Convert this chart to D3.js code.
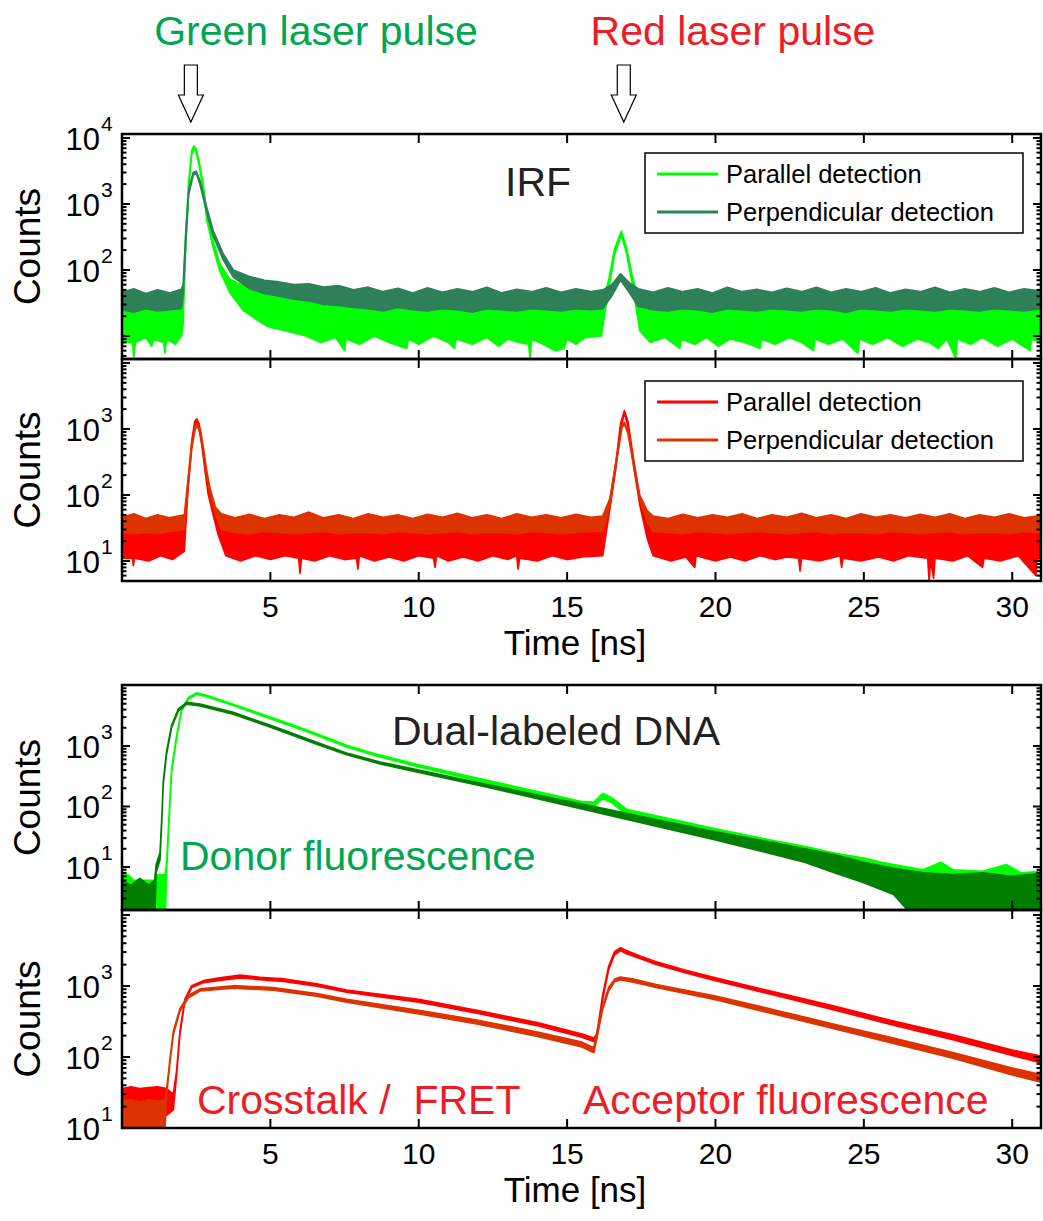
<!DOCTYPE html>
<html>
<head>
<meta charset="utf-8">
<title>IRF and dual-labeled DNA decays</title>
<script src="https://d3js.org/d3.v7.min.js"></script>
<style>
  body { margin: 0; background: #fff; }
  svg text { font-family: "Liberation Sans", Arial, Helvetica, sans-serif; }
</style>
</head>
<body>
<div id="chart"></div>
<script>
// ---- data: [time ns, low count, high count] (noise band) ----
var irfGreenPar = [
  [0, 8, 24], [0.35, 8, 26], [0.4, 4.8, 24], [0.45, 8, 25], [0.8, 9.5, 26], [1.0, 7, 24], [1.05, 9, 26],
  [1.4, 8, 25], [1.45, 5.5, 26], [1.5, 9, 25], [1.8, 7.5, 27], [2.0, 10, 26],
  [2.06, 15, 40], [2.15, 250, 400], [2.25, 1800, 2300], [2.35, 5500, 6500], [2.42, 7000, 7600],
  [2.5, 6000, 6800], [2.6, 3800, 4400], [2.74, 1600, 2000], [2.86, 560, 700], [3.07, 220, 280],
  [3.3, 95, 125], [3.64, 45, 72], [4.1, 24, 58], [4.6, 17, 50], [4.9, 14, 46], [5.5, 12, 42],
  [6.2, 10, 38], [6.7, 8, 34], [7.2, 9.5, 30], [7.5, 6, 29], [7.55, 9, 28], [8.0, 7.5, 27],
  [8.5, 10, 28], [9, 8, 27], [9.6, 6.5, 26], [9.65, 9, 27], [10.0, 7.5, 28], [10.5, 10, 27],
  [11.0, 8, 26], [11.2, 6.5, 27], [11.25, 9, 28], [11.8, 7.5, 27], [12.3, 9.5, 28], [12.7, 7, 26],
  [13.0, 9, 27], [13.4, 8, 28], [13.7, 7.5, 27], [13.75, 4.6, 27], [13.8, 9, 28], [14.2, 7.5, 26],
  [14.6, 6, 27], [14.9, 6.5, 28], [15.0, 9, 27], [15.3, 7.5, 26], [15.6, 9.5, 27], [16.15, 10, 28],
  [16.4, 50, 70], [16.6, 170, 210], [16.83, 340, 390], [17.0, 180, 220], [17.2, 60, 80],
  [17.45, 12, 32], [17.8, 8, 28], [18.3, 9.5, 27], [18.8, 6.5, 26], [18.85, 9, 28], [19.3, 7.5, 27],
  [19.7, 9.5, 28], [20.1, 7, 27], [20.5, 9, 26], [21.0, 8, 28], [21.5, 6.5, 27], [21.55, 9, 28],
  [22.0, 7.5, 26], [22.5, 9.5, 27], [22.9, 8, 28], [23.3, 6, 27], [23.35, 9, 26], [23.8, 7.5, 28],
  [24.3, 9, 27], [24.8, 5.5, 26], [24.85, 9, 28], [25.3, 7.5, 27], [25.8, 9.5, 28], [26.3, 7, 26],
  [26.8, 9, 27], [27.2, 8, 28], [27.5, 6.5, 27], [27.8, 9, 26], [28.1, 4.6, 27], [28.15, 9, 28],
  [28.6, 7.5, 27], [29, 9.5, 28], [29.5, 7, 26], [30, 9, 27], [30.6, 6, 28], [30.65, 9, 27], [31, 8, 28]
];
var irfGreenPerp = [
  [0, 25, 46], [0.4, 23, 52], [0.8, 26, 44], [1.2, 24, 50], [1.6, 25, 45], [2.0, 26, 51],
  [2.06, 40, 60], [2.15, 250, 380], [2.25, 1400, 1700], [2.4, 2700, 3000], [2.5, 2950, 3150],
  [2.63, 1950, 2250], [2.86, 720, 880], [3.07, 330, 400], [3.4, 145, 180], [3.75, 78, 100],
  [4.3, 52, 80], [4.8, 44, 70], [5.3, 40, 66], [5.8, 36, 60], [6.3, 34, 62], [6.8, 30, 55],
  [7.3, 29, 58], [7.8, 27, 50], [8.3, 26, 55], [8.8, 24, 47], [9.3, 27, 53], [9.8, 25, 45],
  [10.3, 24, 54], [10.8, 26, 46], [11.3, 25, 52], [11.8, 23, 47], [12.3, 26, 55], [12.8, 25, 45],
  [13.3, 24, 51], [13.8, 26, 47], [14.3, 25, 54], [14.8, 24, 46], [15.3, 26, 52], [15.8, 25, 47],
  [16.2, 26, 50], [16.5, 40, 60], [16.8, 70, 88], [17.1, 45, 64], [17.4, 28, 52], [17.9, 25, 46],
  [18.4, 24, 54], [18.9, 26, 47], [19.4, 25, 52], [19.9, 23, 45], [20.4, 26, 55], [20.9, 25, 47],
  [21.4, 24, 51], [21.9, 26, 46], [22.4, 25, 53], [22.9, 24, 47], [23.4, 26, 55], [23.9, 25, 46],
  [24.4, 23, 52], [24.9, 26, 47], [25.4, 25, 54], [25.9, 24, 45], [26.4, 26, 51], [26.9, 25, 47],
  [27.4, 24, 55], [27.9, 26, 46], [28.4, 25, 52], [28.9, 24, 47], [29.4, 26, 54], [29.9, 25, 46],
  [30.4, 24, 52], [31, 26, 48]
];
var irfRedPar = [
  [0, 11, 30], [0.35, 11, 29], [0.38, 8.5, 30], [0.42, 11, 30], [0.9, 10, 29], [1.3, 12, 31],
  [1.7, 10.5, 30], [2.1, 14, 32], [2.23, 130, 170], [2.35, 560, 660], [2.45, 1150, 1300],
  [2.52, 1300, 1420], [2.6, 1000, 1200], [2.69, 560, 660], [2.8, 230, 290], [2.9, 105, 135],
  [3.07, 50, 68], [3.24, 25, 45], [3.5, 12, 31], [4.0, 10, 30], [4.5, 12, 30], [5.0, 10.5, 29],
  [5.5, 12, 30], [5.95, 11, 30], [6.0, 6.5, 30], [6.05, 11, 29], [6.5, 10, 30], [7, 12, 31],
  [7.5, 10.5, 30], [7.9, 11, 30], [7.95, 7.5, 30], [8.0, 12, 29], [8.5, 10, 30], [9, 11.5, 30],
  [9.5, 10, 29], [10.0, 12, 30], [10.5, 11, 30], [10.55, 8, 29], [10.6, 12, 30], [11.0, 10, 30],
  [11.5, 11.5, 29], [12, 10, 30], [12.5, 12, 30], [13.0, 10.5, 29], [13.3, 12, 30],
  [13.35, 7.5, 30], [13.4, 11, 29], [14.0, 10, 30], [14.5, 12, 30], [15.0, 10.5, 29],
  [15.5, 11.5, 30], [16.2, 12, 30], [16.45, 65, 90], [16.65, 270, 330], [16.8, 1000, 1200],
  [16.93, 1750, 1900], [17.05, 1100, 1300], [17.25, 260, 330], [17.45, 70, 90], [17.7, 22, 36],
  [17.9, 12, 30], [18.5, 10, 30], [19, 11.5, 29], [19.3, 8, 30], [19.35, 12, 30], [20.0, 10, 30],
  [20.5, 11.5, 29], [21.0, 10, 30], [21.5, 12, 30], [22.0, 10.5, 29], [22.4, 11.5, 30],
  [22.8, 11, 30], [22.85, 7, 29], [22.9, 11, 30], [23.5, 10, 30], [24.2, 12, 29], [24.25, 8, 30],
  [24.3, 11, 30], [24.9, 10, 30], [25.5, 11.5, 29], [26.0, 10, 30], [26.5, 12, 30], [27.15, 11, 30],
  [27.2, 5, 29], [27.25, 10, 30], [27.35, 5.5, 30], [27.4, 11, 29], [28.0, 10, 30], [28.5, 12, 30],
  [29.0, 8, 30], [29.05, 11, 29], [29.6, 10, 30], [30.2, 12, 30], [30.8, 6, 29], [30.85, 11, 30],
  [31, 10.5, 30]
];
var irfRedPerp = [
  [0, 27, 46], [0.4, 26, 52], [0.8, 27, 44], [1.2, 26, 50], [1.6, 28, 45], [2.1, 30, 50],
  [2.23, 140, 180], [2.35, 500, 600], [2.47, 1000, 1150], [2.55, 1100, 1200], [2.65, 800, 950],
  [2.75, 420, 500], [2.86, 190, 230], [2.97, 100, 125], [3.15, 50, 65], [3.35, 30, 52],
  [3.8, 27, 45], [4.3, 26, 51], [4.8, 28, 44], [5.3, 27, 50], [5.8, 26, 46], [6.3, 27, 55],
  [6.8, 28, 45], [7.3, 26, 50], [7.8, 27, 44], [8.3, 27, 52], [8.8, 26, 46], [9.3, 28, 50],
  [9.8, 27, 44], [10.3, 26, 51], [10.8, 27, 46], [11.3, 28, 53], [11.8, 26, 45], [12.3, 27, 50],
  [12.8, 27, 44], [13.3, 26, 52], [13.8, 28, 46], [14.3, 27, 50], [14.8, 26, 45], [15.3, 27, 51],
  [15.8, 28, 46], [16.2, 28, 48], [16.45, 70, 90], [16.65, 280, 330], [16.85, 1050, 1150],
  [16.93, 1180, 1260], [17.05, 850, 950], [17.25, 260, 310], [17.45, 85, 100], [17.7, 40, 58],
  [17.9, 28, 48], [18.4, 27, 44], [18.9, 26, 51], [19.4, 28, 45], [19.9, 27, 50], [20.4, 26, 46],
  [20.9, 27, 52], [21.4, 28, 44], [21.9, 27, 50], [22.4, 26, 46], [22.9, 27, 53], [23.4, 28, 45],
  [23.9, 26, 50], [24.4, 27, 44], [24.9, 27, 52], [25.4, 26, 46], [25.9, 28, 50], [26.4, 27, 45],
  [26.9, 26, 51], [27.4, 27, 46], [27.9, 28, 52], [28.4, 26, 44], [28.9, 27, 50], [29.4, 27, 46],
  [29.9, 26, 52], [30.4, 28, 45], [31, 27, 49]
];
var donorPar = [
  [0, 1, 8], [0.2, 1, 7.5], [0.4, 1, 6], [0.8, 1, 6], [1.15, 1, 6], [1.2, 1, 7.5], [1.45, 1, 7.5],
  [1.5, 8, 11], [1.56, 30, 40], [1.62, 120, 150], [1.67, 360, 420], [1.84, 1350, 1480],
  [2.01, 3800, 4100], [2.24, 5950, 6350], [2.52, 7200, 7600], [2.85, 6500, 6900], [3.75, 4650, 4900],
  [4.88, 2950, 3150], [6.0, 1900, 2020], [7.12, 1170, 1250], [7.57, 960, 1030], [8.5, 700, 750],
  [10, 450, 490], [12, 265, 292], [14, 155, 177], [15.5, 103, 121], [15.9, 100, 118],
  [16.2, 135, 165], [16.5, 115, 140], [17, 74, 90], [18, 56, 70], [20, 32, 43], [22, 18, 27],
  [23, 14, 22], [24, 10, 17], [25, 7, 14], [25.6, 5, 12], [26, 4, 11], [27, 2, 9], [27.6, 1, 12],
  [28, 1, 9], [29, 1, 8.5], [29.8, 1, 11], [30.3, 1, 8], [31, 1, 8.5]
];
var donorPerp = [
  [0, 1, 6], [0.3, 1, 5], [0.6, 1, 6.5], [0.9, 1, 5], [1.1, 1, 6], [1.15, 8, 11], [1.28, 13, 17],
  [1.34, 55, 65], [1.39, 230, 260], [1.5, 720, 800], [1.67, 2000, 2180], [1.9, 3800, 4100],
  [2.18, 4900, 5250], [2.63, 4600, 4950], [3.75, 3350, 3600], [5.1, 1970, 2110], [6.56, 1070, 1150],
  [7.57, 715, 765], [8.7, 505, 545], [10, 365, 400], [12, 225, 250], [14, 135, 155], [16, 80, 98],
  [18, 47, 61], [20, 28, 38], [22, 16, 25], [23, 12, 20], [24, 8, 16], [25, 5.5, 12], [26, 3.5, 9.5],
  [27, 1, 8], [28, 1, 7.5], [29, 1, 8], [30, 1, 7], [31, 1, 8]
];
var acceptorPar = [
  [0, 16, 36], [0.3, 15, 38], [0.6, 17, 36], [0.9, 13, 37], [1.2, 16, 38], [1.5, 15, 36],
  [1.73, 18, 30], [1.84, 55, 64], [1.95, 205, 230], [2.12, 610, 660], [2.35, 950, 1010],
  [2.74, 1110, 1190], [3.3, 1200, 1300], [3.98, 1300, 1420], [4.65, 1230, 1330], [5.44, 1160, 1260],
  [6.56, 990, 1070], [7.57, 820, 880], [10, 590, 650], [12, 410, 450], [14, 275, 305],
  [15.5, 190, 210], [15.9, 165, 185], [16.0, 180, 210], [16.2, 650, 750], [16.4, 1700, 1900],
  [16.6, 2750, 3050], [16.8, 3150, 3450], [17.0, 2850, 3150], [17.5, 2400, 2600], [18, 2000, 2200],
  [19, 1530, 1670], [20, 1190, 1310], [22, 740, 820], [24, 460, 520], [26, 280, 320],
  [28, 175, 205], [30, 105, 125], [31, 82, 102]
];
var acceptorPerp = [
  [0, 9, 24], [0.3, 10, 25], [0.6, 8, 23], [0.9, 10, 25], [1.2, 9, 24], [1.45, 10, 25],
  [1.5, 28, 34], [1.62, 85, 97], [1.73, 205, 230], [1.95, 440, 480], [2.24, 680, 740],
  [2.63, 850, 910], [3.75, 930, 1010], [5.1, 870, 950], [6.56, 715, 785], [7.57, 590, 650],
  [10, 405, 455], [12, 290, 330], [14, 195, 225], [15.5, 138, 162], [15.9, 115, 135],
  [16.0, 180, 220], [16.2, 470, 530], [16.4, 850, 950], [16.6, 1150, 1250], [16.8, 1220, 1340],
  [17.2, 1140, 1260], [18, 950, 1050], [20, 640, 720], [22, 400, 460], [24, 250, 290],
  [26, 155, 185], [28, 96, 116], [30, 56, 70], [31, 44, 56]
];

var timeTicks = [5, 10, 15, 20, 25, 30];
var pulseTimes = [2.32, 16.91];
var pulseNames = ["Green laser pulse", "Red laser pulse"];
var legendNames = ["Parallel detection", "Perpendicular detection"];

// ---- layout ----
var W = 1043, H = 1221;
var X0 = 122, X1 = 1041;

var svg = d3.select("#chart").append("svg")
    .attr("width", W).attr("height", H);

var x = d3.scaleLinear().domain([0, 30.97]).range([X0, X1]);

var panels = [
  { top: 134, bottom: 359, dom: [0.652, 4.06], exps: [2, 3, 4],
    series: [[irfGreenPar, "#00ff00"], [irfGreenPerp, "#2e8058"]], legend: 153, xlab: false },
  { top: 359, bottom: 581, dom: [0.697, 4.06], exps: [1, 2, 3],
    series: [[irfRedPar, "#ff0000"], [irfRedPerp, "#dc3300"]], legend: 381, xlab: true },
  { top: 685, bottom: 910, dom: [0.289, 4.008], exps: [1, 2, 3],
    series: [[donorPar, "#00ff00"], [donorPerp, "#007f00"]], xlab: false },
  { top: 910, bottom: 1128, dom: [1.0, 4.07], exps: [1, 2, 3],
    series: [[acceptorPar, "#ff0000"], [acceptorPerp, "#dc3300"]], xlab: true }
];

panels.forEach(function(p, i) {
  var y = d3.scaleLog()
      .domain([Math.pow(10, p.dom[0]), Math.pow(10, p.dom[1])])
      .range([p.bottom, p.top]);

  svg.append("clipPath").attr("id", "clip" + i)
    .append("rect")
      .attr("x", X0).attr("y", p.top)
      .attr("width", X1 - X0).attr("height", p.bottom - p.top);

  var area = d3.area()
      .x(function(d) { return x(d[0]); })
      .y0(function(d) { return y(d[1]); })
      .y1(function(d) { return y(d[2]); });

  var g = svg.append("g").attr("clip-path", "url(#clip" + i + ")");
  p.series.forEach(function(s) {
    g.append("path")
      .datum(s[0])
      .attr("fill", s[1])
      .attr("stroke", s[1])
      .attr("stroke-width", 1.6)
      .attr("stroke-linejoin", "round")
      .attr("d", area);
  });

  // box
  svg.append("rect")
    .attr("x", X0).attr("y", p.top)
    .attr("width", X1 - X0).attr("height", p.bottom - p.top)
    .attr("fill", "none").attr("stroke", "#000").attr("stroke-width", 2.5);

  // log ticks, left and right, inward
  y.ticks().forEach(function(v) {
    var lg = Math.log10(v);
    var major = Math.abs(lg - Math.round(lg)) < 1e-6;
    var len = major ? 8 : 4.5;
    var yy = y(v);
    if (yy < p.top + 1 || yy > p.bottom - 1) return;
    svg.append("line").attr("x1", X0).attr("x2", X0 + len).attr("y1", yy).attr("y2", yy)
      .attr("stroke", "#000").attr("stroke-width", 2);
    svg.append("line").attr("x1", X1).attr("x2", X1 - len).attr("y1", yy).attr("y2", yy)
      .attr("stroke", "#000").attr("stroke-width", 2);
  });

  // time ticks top and bottom, inward
  timeTicks.forEach(function(t) {
    svg.append("line").attr("x1", x(t)).attr("x2", x(t)).attr("y1", p.top).attr("y2", p.top + 9)
      .attr("stroke", "#000").attr("stroke-width", 2);
    svg.append("line").attr("x1", x(t)).attr("x2", x(t)).attr("y1", p.bottom).attr("y2", p.bottom - 9)
      .attr("stroke", "#000").attr("stroke-width", 2);
  });

  // y labels 10^n
  p.exps.forEach(function(e) {
    var yy = y(Math.pow(10, e));
    svg.append("text").attr("x", 100).attr("y", yy + 12)
      .attr("text-anchor", "end").attr("font-size", 31).text("10");
    svg.append("text").attr("x", 101).attr("y", yy - 7)
      .attr("font-size", 21).text(e);
  });

  svg.append("text")
    .attr("transform", "translate(40," + ((p.top + p.bottom) / 2) + ") rotate(-90)")
    .attr("text-anchor", "middle").attr("font-size", 37).text("Counts");

  if (p.xlab) {
    svg.append("g")
      .attr("transform", "translate(0," + p.bottom + ")")
      .selectAll("text").data(timeTicks).enter().append("text")
        .attr("x", function(t) { return x(t); })
        .attr("y", 36)
        .attr("text-anchor", "middle")
        .attr("font-size", 30)
        .text(function(t) { return t; });
    svg.append("text").attr("x", 575).attr("y", p.bottom + 74)
      .attr("text-anchor", "middle").attr("font-size", 35).text("Time [ns]");
  }

  if (p.legend) {
    var lg = svg.append("g").attr("transform", "translate(645," + p.legend + ")");
    lg.append("rect").attr("width", 378).attr("height", 80)
      .attr("fill", "#fff").attr("stroke", "#000").attr("stroke-width", 1.5);
    legendNames.forEach(function(name, k) {
      var cy = 21 + k * 38;
      lg.append("line").attr("x1", 12).attr("x2", 73).attr("y1", cy).attr("y2", cy)
        .attr("stroke", p.series[k][1]).attr("stroke-width", 3);
      lg.append("text").attr("x", 81).attr("y", cy + 9)
        .attr("font-size", 25.5).text(name);
    });
  }
});

// ---- annotations ----
var pulseColors = ["#00a650", "#ee1c25"];
var pulseTextX = [316, 733];
pulseTimes.forEach(function(t, k) {
  var cx = x(t);
  svg.append("polygon")
    .attr("points", [[cx - 6.5, 65], [cx + 6.5, 65], [cx + 6.5, 95], [cx + 12.5, 95],
                     [cx, 122], [cx - 12.5, 95], [cx - 6.5, 95]].join(" "))
    .attr("fill", "#fff").attr("stroke", "#000").attr("stroke-width", 1.2);
  svg.append("text").attr("x", pulseTextX[k]).attr("y", 45)
    .attr("text-anchor", "middle").attr("font-size", 41)
    .attr("fill", pulseColors[k]).text(pulseNames[k]);
});

svg.append("text").attr("x", 505).attr("y", 196).attr("font-size", 41)
  .attr("fill", "#222").text("IRF");
svg.append("text").attr("x", 392).attr("y", 745).attr("font-size", 41)
  .attr("fill", "#222").text("Dual-labeled DNA");
svg.append("text").attr("x", 180).attr("y", 870).attr("font-size", 41)
  .attr("fill", "#00a650").text("Donor fluorescence");
svg.append("text").attr("x", 197).attr("y", 1114).attr("font-size", 41)
  .attr("fill", "#ee1c25").style("white-space", "pre")
  .text("Crosstalk /  FRET");
svg.append("text").attr("x", 583).attr("y", 1114).attr("font-size", 41)
  .attr("fill", "#ee1c25").text("Acceptor fluorescence");
</script>
</body>
</html>
